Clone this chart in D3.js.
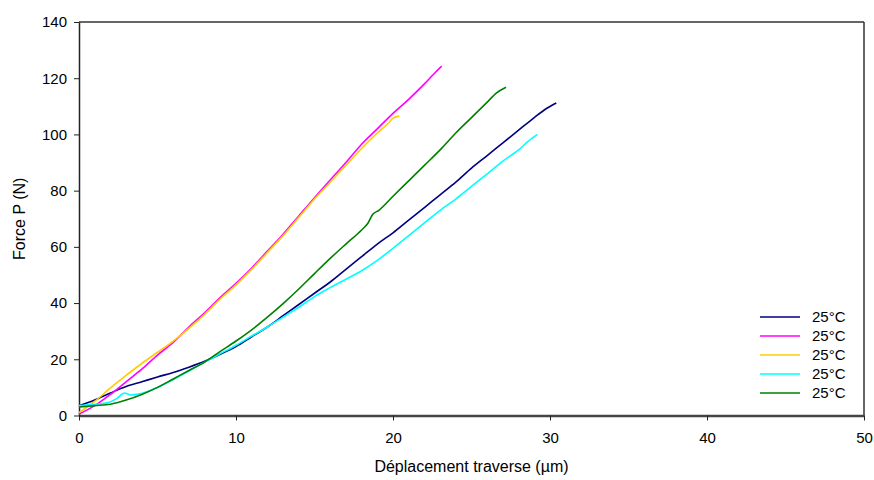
<!DOCTYPE html>
<html><head><meta charset="utf-8">
<script src="https://cdn.jsdelivr.net/npm/d3@7"></script>
<style>body{margin:0;background:#fff;} text{font-family:"Liberation Sans",Arial,sans-serif;}</style>
</head><body><svg id="c" width="874" height="480"></svg>
<script>
const seriesNames = ["25°C","25°C","25°C","25°C","25°C"];
const seriesColors = ["#000080","#FF00FF","#FFCC00","#00FFFF","#008000"];
const navy = [[0,3.5],[1,5.5],[2,8],[3,10.3],[4,12],[5,13.7],[6,15.3],[7,17.2],[8,19.3],[9,21.8],[10,24.5],[11,28],[12,31.5],[13,35.5],[14,39.5],[15,43.5],[16,47.5],[17,52],[18,56.5],[19,61],[20,65],[21,69.5],[22,74],[23,78.5],[24,83],[25,88],[26,92.5],[27,97],[28,101.5],[29,106],[29.8,109.3],[30.4,111.2]];
const magenta = [[0,0.5],[1,3.5],[2,7.5],[3,12],[4,16.5],[5,21.5],[6,26],[7,31.5],[8,36.5],[9,42],[10,47],[11,52.5],[12,58.5],[13,64.5],[14,71],[15,77.5],[16,83.8],[17,90],[18,96.5],[19,102],[20,107.5],[21,112.5],[22,118],[22.6,121.5],[23.1,124.3]];
const yellow = [[0,1],[1,5],[2,9.8],[3,14.3],[4,18.5],[5,22.5],[6,26.5],[7,31],[8,36],[9,41.5],[10,46.5],[11,52],[12,58],[13,64],[14,70.5],[15,77],[16,83],[17,89],[18,95],[19,100.5],[19.7,104],[20,105.8],[20.4,106.5]];
const cyan = [[0,3.5],[1,4],[1.8,4.5],[2.4,6],[2.9,8],[3.3,7.3],[3.8,7.6],[5,10],[6,12.8],[7,15.8],[8,19],[9,22],[10,25],[11,28.3],[12,31.5],[13,35],[14,38.5],[15,42.3],[16,45.5],[17,48.5],[18,51.5],[19,55.2],[20,59.5],[21,64],[22,68.5],[23,73],[24,77],[25,81.5],[26,86],[27,90.5],[28,94.5],[28.6,97.5],[29.2,100]];
const green = [[0,3],[1,3.5],[2,4],[3,5.5],[4,7.5],[5,10],[6,13],[7,16],[8,19],[9,22.8],[10,26.5],[11,30.5],[12,35],[13,39.8],[14,45],[15,50.5],[16,55.9],[17,61],[18,66],[18.4,68.4],[18.7,71.5],[19.1,73],[20,78],[21,83.5],[22,89],[23,94.5],[24,100.5],[25,106],[26,111.5],[26.6,114.8],[27.2,116.8]];
const seriesData = [navy, magenta, yellow, cyan, green];
const xTicks = [0,10,20,30,40,50];
const yTicks = [0,20,40,60,80,100,120,140];
const xTitle = "Déplacement traverse (µm)";
const yTitle = "Force P (N)";

const svg = d3.select("#c");
const L = 79, R = 864, T = 22, B = 415.5;
const x = d3.scaleLinear().domain([0,50]).range([L,R]);
const y = d3.scaleLinear().domain([0,140]).range([B,T]);

svg.append("line").attr("x1",L).attr("x2",R).attr("y1",T).attr("y2",T).attr("stroke","#333").attr("stroke-width",1.5);
svg.append("line").attr("x1",R).attr("x2",R).attr("y1",T).attr("y2",B).attr("stroke","#333").attr("stroke-width",1.5);

const xa = svg.append("g").attr("transform",`translate(0,${B})`)
  .call(d3.axisBottom(x).tickValues(xTicks).tickSize(5).tickPadding(12).tickSizeOuter(0));
const ya = svg.append("g").attr("transform",`translate(${L},0)`)
  .call(d3.axisLeft(y).tickValues(yTicks).tickSize(5).tickPadding(7).tickSizeOuter(0));
[xa,ya].forEach(g=>{
  g.selectAll("text").attr("font-size",15).attr("fill","#000").attr("font-family","Liberation Sans, Arial, sans-serif");
  g.selectAll("line").attr("stroke","#222").attr("stroke-width",1);
});
xa.select(".domain").attr("stroke","#444").attr("stroke-width",2.5);
ya.select(".domain").attr("stroke","#222").attr("stroke-width",1.5);

const line = d3.line().x(d=>x(d[0])).y(d=>y(d[1])).curve(d3.curveMonotoneX);
seriesData.forEach((s,i)=>{
  svg.append("path").datum(s).attr("d",line).attr("fill","none")
    .attr("stroke",seriesColors[i]).attr("stroke-width",1.6);
});

svg.append("text").attr("x",(L+R)/2).attr("y",472).attr("text-anchor","middle")
  .attr("font-size",16).text(xTitle);
svg.append("text").attr("transform",`translate(25,${(T+B)/2}) rotate(-90)`).attr("text-anchor","middle")
  .attr("font-size",16).text(yTitle);

const lg = svg.append("g");
seriesNames.forEach((n,i)=>{
  const yy = 317 + i*19;
  lg.append("line").attr("x1",760).attr("x2",800).attr("y1",yy).attr("y2",yy)
    .attr("stroke",seriesColors[i]).attr("stroke-width",1.6);
  lg.append("text").attr("x",812).attr("y",yy).attr("dy","0.35em").attr("font-size",15).text(n);
});
</script></body></html>
